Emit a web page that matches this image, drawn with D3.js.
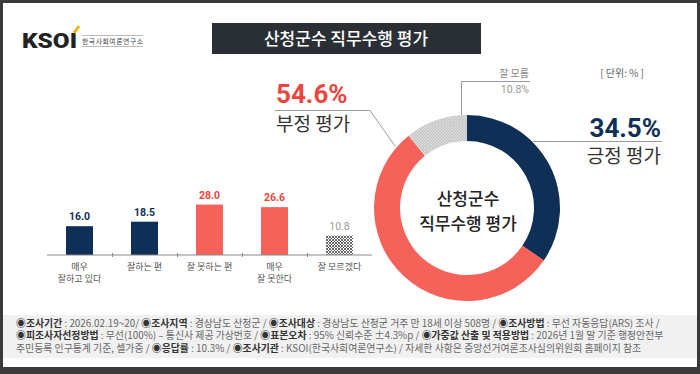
<!DOCTYPE html>
<html>
<head>
<meta charset="utf-8">
<script src="https://cdn.jsdelivr.net/npm/d3@7"></script>
<style>
  body { margin: 0; background: #fff; }
  svg { display: block; font-family: "Noto Sans CJK KR", "Noto Sans", sans-serif; }
</style>
</head>
<body>
<svg id="chart" width="700" height="374"></svg>
<script>
// bar chart data (5-point answers)
const barCategories = ["매우\n잘하고 있다", "잘하는 편", "잘 못하는 편", "매우\n잘 못한다", "잘 모르겠다"];
const barValues = [16.0, 18.5, 28.0, 26.6, 10.8];
const barGroups = ["pos", "pos", "neg", "neg", "dk"];

// donut data
const donutLabels = ["긍정 평가", "부정 평가", "잘 모름"];
const donutValues = [34.5, 54.6, 10.8];
const donutTitle = ["산청군수", "직무수행 평가"];

const footerLines = [
  [["◉조사기간", " : 2026.02.19~20/ "], ["◉조사지역", " : 경상남도 산청군 / "], ["◉조사대상", " : 경상남도 산청군 거주 만 18세 이상 508명 / "], ["◉조사방법", " : 무선 자동응답(ARS) 조사 /"]],
  [["◉피조사자선정방법", " : 무선(100%) – 통신사 제공 가상번호 / "], ["◉표본오차", " : 95% 신뢰수준 ±4.3%p / "], ["◉가중값 산출 및 적용방법", " : 2026년 1월 말 기준 행정안전부"]],
  [["", "주민등록 인구통계 기준, 셀가중 / "], ["◉응답률", " : 10.3% / "], ["◉조사기관", " : KSOI(한국사회여론연구소) / 자세한 사항은 중앙선거여론조사심의위원회 홈페이지 참조"]]
];

const NAVY = "#0f2f57", RED = "#f5625a", RED_TXT = "#e9463f";
const svg = d3.select("#chart");

// patterns
const defs = svg.append("defs");
const hatch = defs.append("pattern").attr("id", "hatch")
  .attr("patternUnits", "userSpaceOnUse").attr("width", 3).attr("height", 3);
hatch.append("rect").attr("width", 3).attr("height", 3).attr("fill", "#fff");
hatch.append("path").attr("d", "M0,3 L3,0 M0,0 L3,3").attr("stroke", "#444").attr("stroke-width", 0.8);
const dots = defs.append("pattern").attr("id", "dots")
  .attr("patternUnits", "userSpaceOnUse").attr("width", 3).attr("height", 3);
dots.append("rect").attr("width", 3).attr("height", 3).attr("fill", "#c4c4c4");
dots.append("path").attr("d", "M0,3 L3,0 M0,0 L3,3").attr("stroke", "#e6e6e6").attr("stroke-width", 0.6);

// frame
svg.append("rect").attr("x", 1.5).attr("y", 1.5).attr("width", 697).attr("height", 368)
  .attr("fill", "#fff").attr("stroke", "#3a3a3a").attr("stroke-width", 3);
svg.append("rect").attr("x", 0).attr("y", 367).attr("width", 700).attr("height", 7).attr("fill", "#3a3a3a");

// logo
svg.append("text").attr("x", 22).attr("y", 48).text("KSOI")
  .attr("font-family", "Roboto, sans-serif").attr("font-weight", 900)
  .attr("font-size", 20).attr("fill", "#222").attr("textLength", 55).attr("lengthAdjust", "spacingAndGlyphs");
svg.append("line").attr("x1", 74).attr("y1", 33).attr("x2", 79).attr("y2", 26)
  .attr("stroke", "#f2b400").attr("stroke-width", 3);
svg.append("line").attr("x1", 82).attr("x2", 143).attr("y1", 35.5).attr("y2", 35.5).attr("stroke", "#bbb");
svg.append("line").attr("x1", 82).attr("x2", 143).attr("y1", 46.5).attr("y2", 46.5).attr("stroke", "#bbb");
svg.append("text").attr("x", 82).attr("y", 44).text("한국사회여론연구소")
  .attr("font-size", 6.8).attr("fill", "#444").attr("textLength", 61);

// title
svg.append("rect").attr("x", 212).attr("y", 23).attr("width", 269).attr("height", 31).attr("fill", "#2a2f35");
svg.append("text").attr("x", 346).attr("y", 45).attr("text-anchor", "middle")
  .text("산청군수 직무수행 평가").attr("font-size", 17).attr("font-weight", 500).attr("fill", "#fff");

// ---- bar chart ----
const x = d3.scaleBand().domain(barCategories).range([47, 372])
  .paddingInner(0.585).paddingOuter(0.2925);
const y = d3.scaleLinear().domain([0, 30]).range([255, 201]);
const fillFor = g => g === "pos" ? NAVY : g === "neg" ? RED : "url(#hatch)";
const txtFor = g => g === "pos" ? NAVY : g === "neg" ? RED_TXT : "#999";

svg.selectAll("rect.bar").data(barValues).enter().append("rect")
  .attr("class", "bar")
  .attr("x", (d, i) => x(barCategories[i]))
  .attr("y", d => y(d))
  .attr("width", x.bandwidth())
  .attr("height", d => y(0) - y(d))
  .attr("fill", (d, i) => fillFor(barGroups[i]));

svg.selectAll("text.val").data(barValues).enter().append("text")
  .attr("class", "val")
  .attr("x", (d, i) => x(barCategories[i]) + x.bandwidth() / 2)
  .attr("y", d => y(d) - 6)
  .attr("text-anchor", "middle")
  .attr("font-family", "Roboto, sans-serif")
  .attr("font-size", 10.5)
  .attr("font-weight", (d, i) => barGroups[i] === "dk" ? 400 : 700)
  .attr("fill", (d, i) => txtFor(barGroups[i]))
  .text(d => d.toFixed(1));

// baseline with ticks at band boundaries
const edge = d3.scaleLinear().domain([0, barCategories.length]).range([47, 372]);
const axis = svg.append("g").attr("transform", "translate(0,255)")
  .call(d3.axisBottom(edge).tickValues(d3.range(1, barCategories.length)).tickSize(3).tickFormat(""));
axis.select(".domain").attr("stroke", "#888").attr("d", "M47,0H372");
axis.selectAll(".tick line").attr("stroke", "#888").attr("y1", -2).attr("y2", 2);

barCategories.forEach(c => {
  const t = svg.append("text").attr("x", x(c) + x.bandwidth() / 2).attr("y", 270)
    .attr("text-anchor", "middle").attr("font-size", 9).attr("fill", "#555");
  c.split("\n").forEach((line, k) => {
    t.append("tspan").attr("x", x(c) + x.bandwidth() / 2).attr("dy", k ? 12 : 0).text(line);
  });
});

// ---- donut ----
const cx = 467, cy = 208;
const pie = d3.pie().sort(null).value(d => d);
const arc = d3.arc().innerRadius(67).outerRadius(93);
const donutFill = [NAVY, RED, "url(#dots)"];
const g = svg.append("g").attr("transform", `translate(${cx},${cy})`);
g.selectAll("path").data(pie(donutValues)).enter().append("path")
  .attr("d", arc).attr("fill", (d, i) => donutFill[i]);

// center title as a single text with two lines
const center = g.append("text").attr("text-anchor", "middle").attr("y", -3)
  .attr("font-size", 17).attr("font-weight", 500).attr("fill", "#222");
donutTitle.forEach((line, k) => {
  center.append("tspan").attr("x", 1).attr("dy", k ? 24.5 : 0).text(line);
});

// leader lines
const lead = "#9a9a9a";
svg.append("path").attr("d", "M275,110.5H370L395,146").attr("fill", "none").attr("stroke", lead);
svg.append("path").attr("d", "M533,141.5H662").attr("fill", "none").attr("stroke", lead);
svg.append("path").attr("d", "M461.5,115V81.5H530").attr("fill", "none").attr("stroke", lead);

// donut labels
svg.append("text").attr("x", 276).attr("y", 103).text(donutValues[1].toFixed(1) + "%")
  .attr("font-family", "Roboto, sans-serif").attr("font-size", 26).attr("font-weight", 700).attr("fill", RED_TXT);
svg.append("text").attr("x", 276).attr("y", 131).text(donutLabels[1])
  .attr("font-size", 19).attr("fill", "#333");
svg.append("text").attr("x", 661).attr("y", 137).attr("text-anchor", "end").text(donutValues[0].toFixed(1) + "%")
  .attr("font-family", "Roboto, sans-serif").attr("font-size", 26).attr("font-weight", 700).attr("fill", NAVY);
svg.append("text").attr("x", 661).attr("y", 163).attr("text-anchor", "end").text(donutLabels[0])
  .attr("font-size", 19).attr("fill", "#333");
svg.append("text").attr("x", 529).attr("y", 77).attr("text-anchor", "end").text(donutLabels[2])
  .attr("font-size", 10).attr("fill", "#888");
svg.append("text").attr("x", 529).attr("y", 93).attr("text-anchor", "end").text(donutValues[2].toFixed(1) + "%")
  .attr("font-family", "Roboto, sans-serif").attr("font-size", 10.5).attr("fill", "#999");
svg.append("text").attr("x", 644).attr("y", 77).attr("text-anchor", "end").text("[ 단위: % ]")
  .attr("font-size", 10).attr("fill", "#666");

// ---- footer ----
svg.append("rect").attr("x", 3).attr("y", 315).attr("width", 694).attr("height", 43).attr("fill", "#f1f1f1");
footerLines.forEach((parts, i) => {
  const t = svg.append("text").attr("x", 16).attr("y", 326.5 + i * 12.8).attr("font-size", 9.9);
  parts.forEach(([label, rest]) => {
    if (label) t.append("tspan").attr("font-weight", 700).attr("fill", "#333").text(label);
    t.append("tspan").attr("fill", "#666").text(rest);
  });
});
</script>
</body>
</html>
